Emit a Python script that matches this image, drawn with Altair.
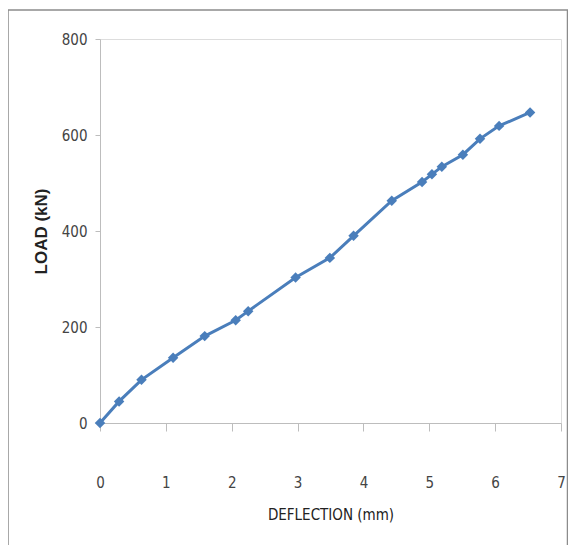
import altair as alt
import pandas as pd

deflection = [0, 0.29, 0.63, 1.11, 1.59, 2.06, 2.25, 2.97, 3.49, 3.85, 4.43, 4.89, 5.04, 5.19, 5.51, 5.77, 6.06, 6.53]
load = [0, 45, 90, 136, 181, 214, 233, 303, 344, 390, 463, 502, 518, 534, 559, 592, 619, 647]

df = pd.DataFrame({"DEFLECTION": deflection, "LOAD": load})

color = "#4a7ebb"
narrow = "Liberation Sans Narrow, DejaVu Sans Condensed, sans-serif"

base = alt.Chart(df)

line = base.mark_line(color=color, strokeWidth=3).encode(
    x=alt.X("DEFLECTION:Q",
            scale=alt.Scale(domain=[0, 7], nice=False),
            axis=alt.Axis(title="DEFLECTION (mm)", values=[0, 1, 2, 3, 4, 5, 6, 7], format="d",
                          grid=False, tickSize=8, labelPadding=44, titlePadding=17,
                          labelFont=narrow, labelFontSize=15, labelColor="#444444",
                          labelFlush=False,
                          titleFont=narrow, titleFontSize=15, titleFontWeight="normal",
                          titleColor="#222222", domainColor="#bdbdbd", tickColor="#bdbdbd")),
    y=alt.Y("LOAD:Q",
            scale=alt.Scale(domain=[0, 800], nice=False),
            axis=alt.Axis(title="LOAD (kN)", values=[0, 200, 400, 600, 800], format="d",
                          grid=False, tickSize=5, labelPadding=8, titlePadding=11,
                          labelFont=narrow, labelFontSize=15, labelColor="#444444",
                          labelFlush=False,
                          titleFont="Liberation Sans, Arial, sans-serif", titleFontSize=17,
                          titleFontWeight="bold", titleColor="#222222",
                          domainColor="#bdbdbd", tickColor="#bdbdbd")),
)

points = base.mark_point(shape="diamond", filled=True, color=color, size=110, opacity=1).encode(
    x="DEFLECTION:Q", y="LOAD:Q"
)

frame = alt.Chart(pd.DataFrame({"a": [0]})).mark_rect(
    fill=None, stroke="#8c8c8c", strokeWidth=1.5, clip=False
).encode(
    x=alt.value(-92), x2=alt.value(467.5), y=alt.value(-29), y2=alt.value(160 + 384)
)

chart = alt.layer(frame, line, points).properties(
    width=461, height=384,
    autosize=alt.AutoSizeParams(type="none"),
    padding={"left": 92, "top": 31, "right": 7, "bottom": 122},
).configure_view(stroke=None).configure(background="white")

chart.save("out.html", embed_options={"renderer": "svg", "actions": False})
